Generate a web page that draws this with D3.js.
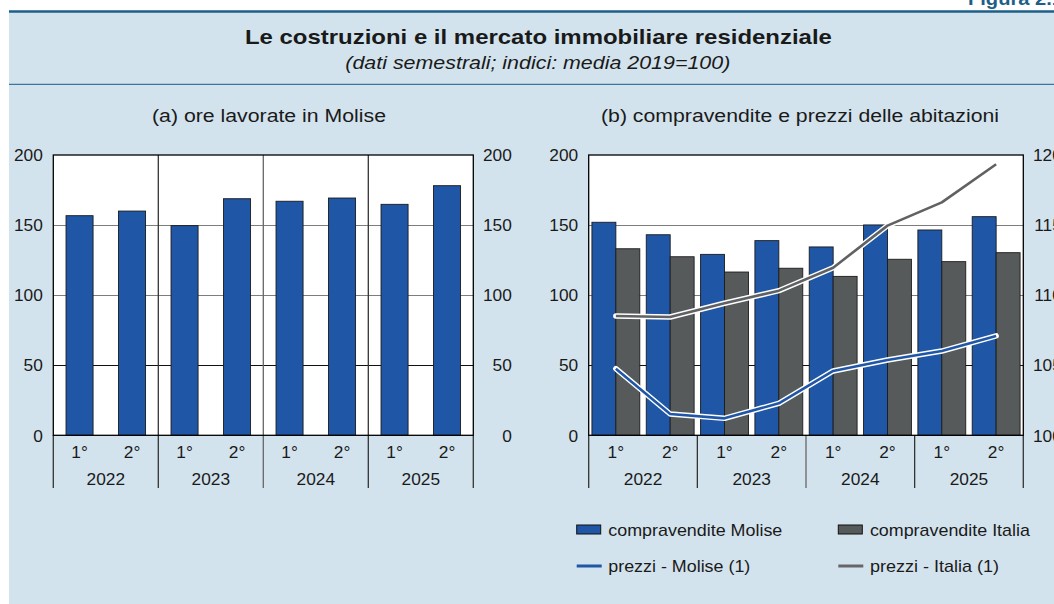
<!DOCTYPE html>
<html>
<head>
<meta charset="utf-8">
<script src="https://cdn.jsdelivr.net/npm/d3@7"></script>
<style>
  html, body { margin: 0; padding: 0; background: #fff; overflow: hidden; }
  svg { display: block; font-family: "Liberation Sans", Arial, sans-serif; }
</style>
</head>
<body>
<svg id="chart" width="1054" height="604"></svg>
<script>
// ---- data ----
const years = ["2022", "2023", "2024", "2025"];
const semesters = ["1°", "2°"];
const periods = ["2022-1", "2022-2", "2023-1", "2023-2", "2024-1", "2024-2", "2025-1", "2025-2"];
const oreLavorate = [156.7, 160.0, 149.6, 168.8, 167.0, 169.3, 164.8, 178.1];
const compravenditeMolise = [152.0, 143.1, 129.1, 138.9, 134.4, 150.1, 146.5, 156.0];
const compravenditeItalia = [133.1, 127.4, 116.5, 119.2, 113.4, 125.6, 123.9, 130.3];
const prezziMolise = [104.75, 101.52, 101.21, 102.28, 104.59, 105.37, 106.01, 107.09];
const prezziItalia = [108.51, 108.44, 109.42, 110.32, 111.96, 114.96, 116.62, 119.34];
const leftTicks = [0, 50, 100, 150, 200];
const rightTicksB = [100, 105, 110, 115, 120];

const C_BLUE = "#1f56a5", C_GREY = "#575a5b", C_LINEGREY = "#5f6163";
const BG = "#d3e3ed";

const svg = d3.select("#chart");
function fit(sel, w) { return sel.attr("textLength", w).attr("lengthAdjust", "spacingAndGlyphs"); }

// background & header
svg.append("rect").attr("x", 9).attr("y", 11).attr("width", 1045).attr("height", 593).attr("fill", BG);
svg.append("line").attr("x1", 9).attr("x2", 1054).attr("y1", 11.5).attr("y2", 11.5)
  .attr("stroke", "#1d5f88").attr("stroke-width", 2.5);
svg.append("line").attr("x1", 9).attr("x2", 1054).attr("y1", 84.3).attr("y2", 84.3)
  .attr("stroke", "#3878a0").attr("stroke-width", 1.3);
fit(svg.append("text").attr("x", 968).attr("y", 4.5).attr("font-size", 19).attr("font-weight", "bold")
  .attr("fill", "#1d5f88").text("Figura 2.1"), 95);
fit(svg.append("text").attr("x", 538.4).attr("y", 43.5).attr("text-anchor", "middle")
  .attr("font-size", 20.8).attr("font-weight", "bold").attr("fill", "#1a1a1a")
  .text("Le costruzioni e il mercato immobiliare residenziale"), 587);
fit(svg.append("text").attr("x", 537.8).attr("y", 69).attr("text-anchor", "middle")
  .attr("font-size", 17.5).attr("font-style", "italic").attr("fill", "#1a1a1a")
  .text("(dati semestrali; indici: media 2019=100)"), 385);

const TOP = 155, BOT = 435.3;
const y = d3.scaleLinear().domain([0, 200]).range([BOT, TOP]);
const yR = d3.scaleLinear().domain([100, 120]).range([BOT, TOP]);

function gridColor(v) { return v === 50 ? "#111" : "#7d7d7d"; }

function panelFrame(g, x0, x1, title, titleX, titleW, rightScale, rightTicks) {
  g.append("rect").attr("x", x0).attr("y", TOP).attr("width", x1 - x0).attr("height", BOT - TOP).attr("fill", "#fff");
  fit(g.append("text").attr("x", titleX).attr("y", 121.7).attr("text-anchor", "middle")
    .attr("font-size", 17.5).attr("fill", "#1a1a1a").text(title), titleW);
  g.selectAll(".grid").data(leftTicks.filter(v => v > 0 && v < 200)).join("line")
    .attr("x1", x0).attr("x2", x1).attr("y1", d => Math.round(y(d)) + 0.5).attr("y2", d => Math.round(y(d)) + 0.5)
    .attr("stroke", gridColor).attr("stroke-width", 1.2);
  g.selectAll(".ll").data(leftTicks).join("text")
    .attr("x", x0 - 10.5).attr("y", d => y(d)).attr("dy", "0.36em").attr("text-anchor", "end")
    .attr("font-size", 17.3).attr("fill", "#1a1a1a").text(d => d);
  g.selectAll(".rl").data(rightTicks).join("text")
    .attr("x", x1 + 38.5).attr("y", d => rightScale(d)).attr("dy", "0.36em").attr("text-anchor", "end")
    .attr("font-size", 17.3).attr("fill", "#1a1a1a").text(d => d);
}

function catAxis(g, x0, x1, xBand, innerVert) {
  const bw = xBand.bandwidth();
  const groupW = bw * 2;
  const bounds = d3.range(years.length + 1).map(i => x0 + i * groupW);
  g.selectAll(".sep").data(bounds).join("line")
    .attr("x1", d => d).attr("x2", d => d)
    .attr("y1", (d, i) => (innerVert && i > 0 && i < years.length) ? TOP : BOT)
    .attr("y2", 488)
    .attr("stroke", (d, i) => (i === 2 ? "#666" : "#333")).attr("stroke-width", 1.3);
  g.selectAll(".sem").data(periods).join("text")
    .attr("x", d => xBand(d) + bw / 2).attr("y", 452).attr("dy", "0.36em").attr("text-anchor", "middle")
    .attr("font-size", 17.3).attr("fill", "#1a1a1a").text((d, i) => semesters[i % 2]);
  g.selectAll(".yr").data(years).join("text")
    .attr("x", (d, i) => x0 + i * groupW + groupW / 2).attr("y", 479).attr("dy", "0.36em").attr("text-anchor", "middle")
    .attr("font-size", 17.3).attr("fill", "#1a1a1a").text(d => d);
}

function border(g, x0, x1) {
  g.append("rect").attr("x", x0).attr("y", TOP).attr("width", x1 - x0).attr("height", BOT - TOP)
    .attr("fill", "none").attr("stroke", "#000").attr("stroke-width", 1.3);
}

// ---- panel (a) ----
const gA = svg.append("g");
const axL = 53.3, axR = 473.3;
const xA = d3.scaleBand().domain(periods).range([axL, axR]).padding(0);
panelFrame(gA, axL, axR, "(a) ore lavorate in Molise", 269, 234, y, leftTicks);
catAxis(gA, axL, axR, xA, true);
const barWA = xA.bandwidth() * 0.515;
gA.selectAll(".bar").data(oreLavorate).join("rect")
  .attr("x", (d, i) => xA(periods[i]) + (xA.bandwidth() - barWA) / 2)
  .attr("y", d => y(d)).attr("width", barWA).attr("height", d => y(0) - y(d))
  .attr("fill", C_BLUE).attr("stroke", "#1b1b1b").attr("stroke-width", 0.9);
border(gA, axL, axR);

// ---- panel (b) ----
const gB = svg.append("g");
const bxL = 588.7, bxR = 1023.3;
const xB = d3.scaleBand().domain(periods).range([bxL, bxR]).padding(0);
const xSub = d3.scaleBand().domain(["m", "i"]).range([0, xB.bandwidth()]).paddingInner(0).paddingOuter(0.135);
panelFrame(gB, bxL, bxR, "(b) compravendite e prezzi delle abitazioni", 800, 398, yR, rightTicksB);
catAxis(gB, bxL, bxR, xB, false);
gB.selectAll(".bm").data(compravenditeMolise).join("rect")
  .attr("x", (d, i) => xB(periods[i]) + xSub("m")).attr("y", d => y(d))
  .attr("width", xSub.bandwidth()).attr("height", d => y(0) - y(d))
  .attr("fill", C_BLUE).attr("stroke", "#1b1b1b").attr("stroke-width", 0.9);
gB.selectAll(".bi").data(compravenditeItalia).join("rect")
  .attr("x", (d, i) => xB(periods[i]) + xSub("i")).attr("y", d => y(d))
  .attr("width", xSub.bandwidth()).attr("height", d => y(0) - y(d))
  .attr("fill", C_GREY).attr("stroke", "#1b1b1b").attr("stroke-width", 0.9);

const lineGen = d3.line().x((d, i) => xB(periods[i]) + xB.bandwidth() / 2).y(d => yR(d));
[[prezziItalia, C_LINEGREY], [prezziMolise, C_BLUE]].forEach(([vals, col]) => {
  gB.append("path").attr("d", lineGen(vals)).attr("fill", "none")
    .attr("stroke", "#fff").attr("stroke-width", 5.5).attr("stroke-linejoin", "round").attr("stroke-linecap", "round");
  gB.append("path").attr("d", lineGen(vals)).attr("fill", "none")
    .attr("stroke", col).attr("stroke-width", 2.6).attr("stroke-linejoin", "round").attr("stroke-linecap", "butt");
});
border(gB, bxL, bxR);

// ---- legend ----
const legendItems = [
  { label: "compravendite Molise", type: "rect", color: C_BLUE, x: 576.7, y: 529.5, w: 174 },
  { label: "compravendite Italia", type: "rect", color: C_GREY, x: 838.3, y: 529.5, w: 160 },
  { label: "prezzi - Molise (1)", type: "line", color: C_BLUE, x: 576.7, y: 566, w: 142 },
  { label: "prezzi - Italia (1)", type: "line", color: "#666", x: 838.3, y: 566, w: 129 }
];
const lg = svg.append("g").selectAll("g").data(legendItems).join("g")
  .attr("transform", d => `translate(${d.x},${d.y})`);
lg.filter(d => d.type === "rect").append("rect")
  .attr("x", 0).attr("y", -4.5).attr("width", 24).attr("height", 9)
  .attr("fill", d => d.color).attr("stroke", "#111").attr("stroke-width", 1);
lg.filter(d => d.type === "line").append("line")
  .attr("x1", 0).attr("x2", 25).attr("y1", 0).attr("y2", 0)
  .attr("stroke", d => d.color).attr("stroke-width", 3);
lg.append("text").attr("x", 31.6).attr("y", 0).attr("dy", "0.36em")
  .attr("font-size", 17).attr("fill", "#1a1a1a")
  .attr("textLength", d => d.w).attr("lengthAdjust", "spacingAndGlyphs").text(d => d.label);
</script>
</body>
</html>
